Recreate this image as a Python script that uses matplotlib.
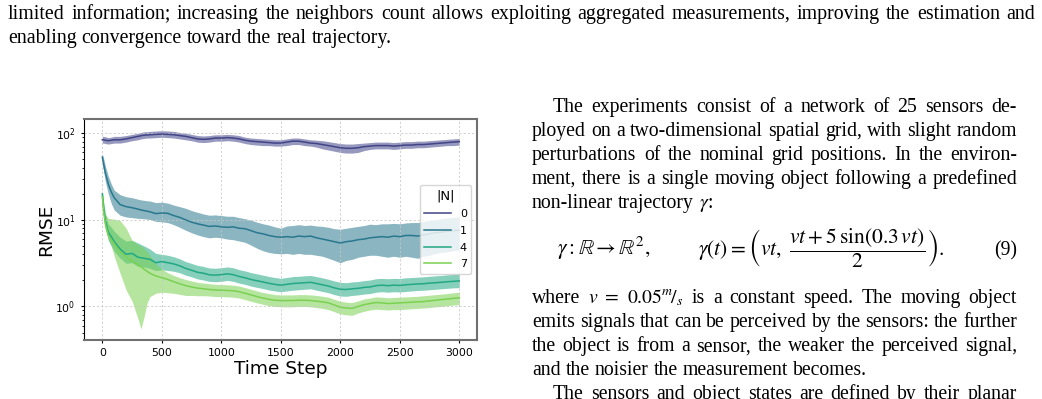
import re
import matplotlib
matplotlib.use("Agg")
import matplotlib.pyplot as plt

# time axis (denser at the start where the curves drop fast)
steps = [0, 10, 25, 50, 75, 100, 150, 200, 250, 300, 325, 350, 375] + list(range(400, 3001, 50))

# |N| = 0
n0_mean = [84, 84, 83, 82, 83, 84, 84, 86, 89, 92,
           93.5, 95, 95.5, 96, 97, 98, 97, 96, 94, 92,
           89, 86, 85, 86, 88, 88, 89, 88, 86, 83,
           81, 80, 79, 78, 77, 77, 79, 81, 81, 79,
           77, 76, 74, 72, 70, 68, 67, 67, 68, 70,
           71, 72, 72, 72, 71, 72, 73, 73, 74, 74,
           75, 76, 77, 78, 79, 80]
n0_lo = [77, 77, 76, 75, 76, 77, 77, 79, 82, 84,
         86, 87, 88, 88, 89, 90, 89, 88, 86, 84,
         82, 79, 78, 79, 81, 81, 82, 81, 79, 76,
         74, 73, 72, 72, 71, 71, 72, 74, 74, 72,
         71, 69, 66, 64, 62, 60, 59, 59, 60, 63,
         65, 66, 66, 66, 65, 66, 67, 67, 68, 68,
         69, 70, 71, 72, 72, 73]
n0_hi = [92, 92, 91, 89, 90, 92, 92, 94, 97, 100,
         102, 104, 104, 105, 106, 107, 106, 105, 102, 100,
         97, 94, 93, 94, 96, 96, 97, 96, 94, 90,
         88, 87, 86, 85, 84, 84, 86, 88, 88, 86,
         84, 83, 82, 80, 78, 76, 75, 75, 76, 77,
         78, 79, 79, 79, 78, 79, 80, 80, 81, 81,
         82, 83, 84, 85, 86, 87]

# |N| = 1
n1_mean = [53, 45, 35, 26, 21, 18, 15, 14.2, 13.8, 13.3,
           13.0, 12.8, 12.6, 12.4, 11.8, 12.0, 11.9, 11.2, 10.7, 10.0,
           9.4, 9.0, 8.7, 8.4, 8.5, 8.3, 8.2, 8.3, 8.0, 7.9,
           7.5, 7.1, 6.9, 6.6, 6.4, 6.3, 6.4, 6.3, 6.5, 6.4,
           6.5, 6.2, 6.0, 5.8, 5.6, 5.4, 5.6, 5.7, 5.9, 6.0,
           6.2, 6.3, 6.4, 6.3, 6.5, 6.4, 6.6, 6.6, 6.5, 6.7,
           6.9, 7.1, 7.2, 7.4, 7.5, 7.6]
n1_lo = [44, 37, 28, 20, 15.5, 13, 11.3, 10.8, 10.6, 10.4,
         10.35, 10.3, 10.2, 10.1, 9.6, 9.5, 9.3, 8.8, 8.2, 7.6,
         7.1, 6.7, 6.4, 6.2, 6.3, 6.2, 6.0, 5.9, 5.7, 5.5,
         5.1, 4.7, 4.4, 4.2, 4.1, 4.05, 4.1, 4.0, 4.1, 4.0,
         4.0, 3.9, 3.8, 3.6, 3.4, 3.2, 3.4, 3.5, 3.7, 3.8,
         3.9, 3.9, 3.8, 3.7, 3.8, 3.7, 3.8, 3.7, 3.6, 3.8,
         3.9, 4.1, 4.2, 4.3, 4.4, 4.5]
n1_hi = [58, 52, 42, 32, 26, 22, 19.5, 18.5, 18.0, 17.3,
         17.0, 16.8, 16.6, 16.5, 15.8, 16.0, 15.6, 14.8, 14.2, 13.6,
         12.8, 12.2, 11.7, 11.3, 11.4, 11.2, 11.0, 11.0, 10.6, 10.3,
         9.9, 9.4, 9.0, 8.7, 8.3, 8.0, 8.5, 8.6, 8.8, 8.6,
         8.7, 8.5, 8.4, 8.2, 7.9, 7.8, 8.0, 8.2, 8.4, 8.6,
         8.9, 8.8, 9.0, 9.0, 9.1, 9.0, 9.2, 9.3, 9.3, 9.6,
         9.8, 10.1, 10.3, 10.5, 10.7, 10.8]

# |N| = 4
n4_mean = [20, 14, 9.8, 7.2, 6.4, 5.6, 4.6, 4.0, 4.1, 3.7,
           3.65, 3.6, 3.55, 3.5, 3.2, 3.3, 3.2, 3.1, 2.95, 2.75,
           2.62, 2.48, 2.42, 2.32, 2.3, 2.33, 2.38, 2.33, 2.22, 2.14,
           2.05, 1.98, 1.92, 1.85, 1.8, 1.76, 1.8, 1.84, 1.86, 1.88,
           1.9, 1.84, 1.78, 1.72, 1.64, 1.58, 1.57, 1.6, 1.62, 1.66,
           1.68, 1.74, 1.76, 1.74, 1.76, 1.75, 1.78, 1.8, 1.82, 1.83,
           1.86, 1.88, 1.9, 1.93, 1.95, 1.97]
n4_lo = [18, 12, 8.2, 5.8, 5.0, 4.3, 3.6, 3.15, 3.2, 2.9,
         2.88, 2.85, 2.8, 2.75, 2.6, 2.65, 2.6, 2.55, 2.45, 2.3,
         2.2, 2.08, 2.02, 1.95, 1.93, 1.95, 2.0, 1.95, 1.86, 1.8,
         1.72, 1.66, 1.61, 1.55, 1.51, 1.48, 1.51, 1.54, 1.56, 1.58,
         1.6, 1.54, 1.49, 1.44, 1.37, 1.32, 1.31, 1.34, 1.36, 1.39,
         1.41, 1.46, 1.48, 1.46, 1.48, 1.47, 1.49, 1.51, 1.53, 1.54,
         1.56, 1.58, 1.6, 1.62, 1.64, 1.65]
n4_hi = [22, 16.5, 12, 9.0, 8.2, 7.4, 6.3, 5.7, 5.8, 5.4,
         5.2, 5.0, 4.8, 4.6, 4.1, 4.0, 3.9, 3.75, 3.55, 3.3,
         3.14, 2.98, 2.9, 2.78, 2.76, 2.8, 2.86, 2.8, 2.66, 2.57,
         2.46, 2.38, 2.3, 2.22, 2.16, 2.11, 2.16, 2.21, 2.23, 2.26,
         2.28, 2.21, 2.14, 2.06, 1.97, 1.9, 1.88, 1.92, 1.94, 1.99,
         2.02, 2.09, 2.11, 2.09, 2.11, 2.1, 2.14, 2.16, 2.18, 2.2,
         2.23, 2.26, 2.28, 2.32, 2.34, 2.36]

# |N| = 7
n7_mean = [18.5, 13, 9.0, 6.6, 5.9, 5.3, 4.3, 3.7, 3.35, 3.05,
           2.88, 2.7, 2.55, 2.42, 2.25, 2.15, 2.05, 1.93, 1.83, 1.74,
           1.68, 1.63, 1.6, 1.57, 1.55, 1.54, 1.53, 1.52, 1.48, 1.42,
           1.36, 1.3, 1.25, 1.21, 1.18, 1.17, 1.17, 1.17, 1.18, 1.18,
           1.17, 1.15, 1.13, 1.1, 1.04, 0.98, 0.96, 0.95, 1.0, 1.05,
           1.08, 1.11, 1.1, 1.08, 1.09, 1.1, 1.11, 1.12, 1.13, 1.14,
           1.16, 1.18, 1.2, 1.22, 1.24, 1.26]
n7_lo = [16.5, 10.5, 7.8, 6.0, 5.0, 3.8, 2.4, 1.55, 1.15, 0.72,
         0.55, 0.75, 1.08, 1.3, 1.42, 1.46, 1.44, 1.42, 1.38, 1.34,
         1.34, 1.33, 1.33, 1.32, 1.3, 1.3, 1.29, 1.28, 1.25, 1.2,
         1.15, 1.1, 1.06, 1.02, 1.0, 0.99, 0.99, 0.99, 1.0, 1.0,
         0.99, 0.97, 0.95, 0.92, 0.87, 0.82, 0.8, 0.79, 0.84, 0.88,
         0.91, 0.93, 0.92, 0.91, 0.92, 0.92, 0.93, 0.94, 0.95, 0.96,
         0.97, 0.99, 1.0, 1.02, 1.04, 1.05]
n7_hi = [20.5, 16, 11.5, 10.4, 10.3, 10.2, 9.8, 8.0, 5.8, 5.2,
         5.0, 4.7, 4.3, 3.9, 3.1, 2.7, 2.45, 2.28, 2.15, 2.05,
         1.97, 1.9, 1.86, 1.83, 1.8, 1.79, 1.78, 1.76, 1.72, 1.65,
         1.58, 1.51, 1.45, 1.41, 1.37, 1.36, 1.36, 1.36, 1.37, 1.37,
         1.36, 1.34, 1.31, 1.28, 1.21, 1.15, 1.12, 1.11, 1.16, 1.22,
         1.25, 1.29, 1.28, 1.26, 1.27, 1.28, 1.29, 1.3, 1.31, 1.33,
         1.35, 1.37, 1.39, 1.41, 1.44, 1.46]

labels = ["0", "1", "4", "7"]
means = [n0_mean, n1_mean, n4_mean, n7_mean]
lows = [n0_lo, n1_lo, n4_lo, n7_lo]
highs = [n0_hi, n1_hi, n4_hi, n7_hi]
colors = plt.cm.viridis([0.2, 0.4, 0.6, 0.8])

# surrounding paper text
top_lines = [
    "limited information; increasing the neighbors count allows exploiting aggregated measurements, improving the estimation and",
    "enabling convergence toward the real trajectory.",
]
col_lines = [
    "The experiments consist of a network of 25 sensors de-",
    "ployed on a two-dimensional spatial grid, with slight random",
    "perturbations of the nominal grid positions. In the environ-",
    "ment, there is a single moving object following a predefined",
    r"non-linear trajectory $\gamma$:",
    r"where $v$ $=$ $0.05^{m}\!/_{s}$ is a constant speed. The moving object",
    "emits signals that can be perceived by the sensors: the further",
    "the object is from a sensor, the weaker the perceived signal,",
    "and the noisier the measurement becomes.",
    "The sensors and object states are defined by their planar",
]

W, H = 1042, 399
fig = plt.figure(figsize=(W / 100, H / 100), dpi=100)
ax = fig.add_axes([84 / W, 1 - 340 / H, (477 - 84) / W, (340 - 119) / H])

for m, lo, hi, c, lab in zip(means, lows, highs, colors, labels):
    ax.fill_between(steps, lo, hi, color=c, alpha=0.55, lw=0)
    ax.plot(steps, m, color=c, lw=1.1, label=lab)

ax.set_yscale("log")
ax.set_ylim(0.41, 146)
ax.set_xlim(-154, 3149)
ax.set_xticks(range(0, 3001, 500))
ax.grid(True, which="major", ls=(0, (2.5, 2.5)), color="#c8c8c8", lw=0.6)
ax.tick_params(labelsize=7.8, length=2.5, width=0.8)
ax.tick_params(which="minor", length=1.5, width=0.6)
for side in ["top", "right", "bottom"]:
    ax.spines[side].set_color("#707070")
    ax.spines[side].set_linewidth(1.5)
ax.spines["left"].set_color("black")
ax.spines["left"].set_linewidth(0.8)
ax.set_xlabel("Time Step", fontsize=13.3, labelpad=1)
ax.set_ylabel("RMSE", fontsize=13.3, labelpad=0)
ax.legend(title="|N|", loc="center right", fontsize=8, title_fontsize=9.5,
          handlelength=2.4, labelspacing=0.6, borderaxespad=0.5)

renderer = fig.canvas.get_renderer()
FS = 14.2
FS_TOP = 14.3


def put_line(s, x0, x1, ybase, size, justify=True):
    toks = re.findall(r"\S*\$[^$]*\$\S*|\S+", s)
    ts = [fig.text(0, 1 - ybase / H, t, fontsize=size, family="Liberation Serif",
                   math_fontfamily="stix", va="baseline") for t in toks]
    ws = [t.get_window_extent(renderer).width for t in ts]
    if justify and len(ts) > 1:
        gap = (x1 - x0 - sum(ws)) / (len(ts) - 1)
    else:
        gap = size * 0.25 * 100 / 72
    x = x0
    for t, w in zip(ts, ws):
        t.set_x(x / W)
        x += w + gap


put_line(top_lines[0], 8, 1035, 19, FS_TOP)
put_line(top_lines[1], 8, 1035, 43, FS_TOP, justify=False)

L, R = 532, 1017
ys = [111.7, 135.7, 159.7, 183.7, 207.7, 303.3, 327.3, 351.3, 375.3, 399.3]
for i, (s, y) in enumerate(zip(col_lines, ys)):
    x0 = 553 if i in (0, 9) else L
    put_line(s, x0, R, y, FS, justify=i not in (4, 8))

FS_EQ = 15.5
fig.text(556.7 / W, 1 - 255 / H, r"$\gamma : \mathbb{R} \rightarrow \mathbb{R}^2,$",
         fontsize=FS_EQ, math_fontfamily="stix", va="baseline")
fig.text(698 / W, 1 - 255 / H,
         r"$\gamma(t) = \left(vt,\ \dfrac{vt + 5\,\sin(0.3\,vt)}{2}\right).$",
         fontsize=FS_EQ, math_fontfamily="stix", va="baseline")
fig.text(R / W, 1 - 255 / H, "(9)", fontsize=FS, family="Liberation Serif",
         ha="right", va="baseline")

fig.savefig("out.png", dpi=100)
